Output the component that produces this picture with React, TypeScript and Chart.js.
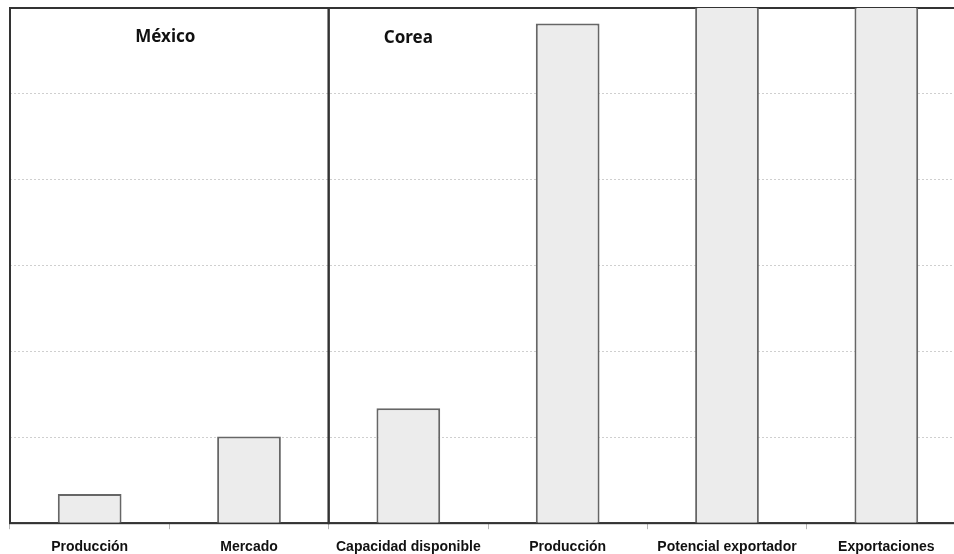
import React, { useEffect, useRef } from "react";
import { Chart, registerables } from "chart.js";

Chart.register(...registerables);

const categories = [
  "Producción",
  "Mercado",
  "Capacidad disponible",
  "Producción",
  "Potencial exportador",
  "Exportaciones",
];
const values = [0.34, 1.01, 1.34, 5.82, 7.2, 7.0];
const groupTitles = ["México", "Corea"];
const groupStart = [0, 2];
const groupEnd = [1, 5];
const yTicks = [0, 1, 2, 3, 4, 5, 6];

const framePlugin = {
  id: "frames",
  beforeDatasetsDraw(chart: any) {
    const { ctx, chartArea, scales } = chart;
    const x = scales.x;
    const half = (x.getPixelForValue(1) - x.getPixelForValue(0)) / 2;
    ctx.save();
    ctx.strokeStyle = "#333";
    ctx.lineWidth = 2;
    groupStart.forEach((s, i) => {
      const l = x.getPixelForValue(s) - half;
      const r = x.getPixelForValue(groupEnd[i]) + half;
      ctx.strokeRect(l, chartArea.top, r - l, chartArea.bottom - chartArea.top);
    });
    ctx.restore();
  },
  afterDraw(chart: any) {
    const { ctx, chartArea, scales } = chart;
    const x = scales.x;
    ctx.save();
    ctx.fillStyle = "#111";
    ctx.font = "bold 17px 'Noto Sans', sans-serif";
    ctx.textAlign = "center";
    ctx.textBaseline = "middle";
    const mx = (x.getPixelForValue(groupStart[0]) + x.getPixelForValue(groupEnd[0])) / 2;
    ctx.fillText(groupTitles[0], mx - 4, chartArea.top + 29);
    ctx.fillText(groupTitles[1], x.getPixelForValue(groupStart[1]), chartArea.top + 30);
    ctx.restore();
  },
};

export default function App() {
  const ref = useRef<HTMLCanvasElement | null>(null);
  useEffect(() => {
    if (!ref.current) return;
    const chart = new Chart(ref.current, {
      type: "bar",
      data: {
        labels: categories,
        datasets: [
          {
            data: values,
            backgroundColor: "#ececec",
            borderColor: "#666",
            borderWidth: 2,
            barPercentage: 0.4,
            categoryPercentage: 1,
          },
        ],
      },
      options: {
        animation: false,
        responsive: false,
        layout: { padding: { left: 10, top: 8, right: 14, bottom: 0 } },
        plugins: { legend: { display: false }, tooltip: { enabled: false } },
        scales: {
          x: {
            grid: {
              drawOnChartArea: false,
              drawTicks: true,
              tickLength: 6,
              color: "#b5b5b5",
            },
            border: { display: true, color: "#666", width: 1.5 },
            ticks: {
              padding: 10,
              color: "#111",
              font: { family: "'Liberation Sans', Arial, sans-serif", size: 14, weight: "bold" },
              maxRotation: 0,
              autoSkip: false,
            },
          },
          y: {
            min: 0,
            max: 6,
            afterBuildTicks: (axis: any) => {
              axis.ticks = yTicks.map((v) => ({ value: v }));
            },
            ticks: { display: false },
            grid: { drawTicks: false, color: "#cfcfcf", lineWidth: 1 },
            border: { display: false, dash: [2, 2] },
          },
        },
      },
      plugins: [framePlugin],
    });
    return () => chart.destroy();
  }, []);
  return (
    <div
      style={{
        position: "absolute",
        left: 0,
        top: 0,
        width: 954,
        height: 554,
        overflow: "hidden",
        background: "#fff",
      }}
    >
      <canvas ref={ref} width={980} height={566} />
    </div>
  );
}
